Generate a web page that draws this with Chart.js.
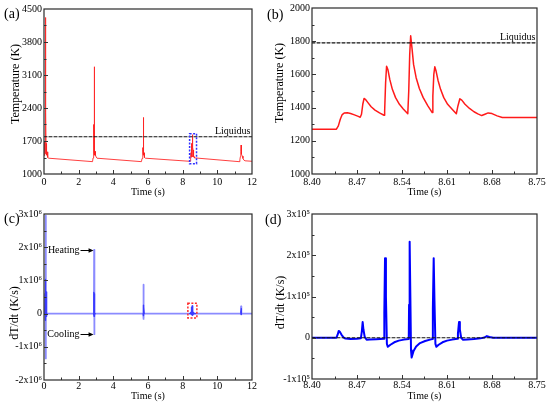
<!DOCTYPE html>
<html><head><meta charset="utf-8">
<script src="https://cdn.jsdelivr.net/npm/chart.js@4.4.0/dist/chart.umd.min.js"></script>
<style>
html,body{margin:0;padding:0;background:#fff;}
#wrap{position:relative;width:550px;height:406px;overflow:hidden;background:#fff;}
canvas{position:absolute;}
.lbl{position:absolute;font-family:"Liberation Serif","Times New Roman",serif;font-size:14px;color:#000;line-height:14px;white-space:nowrap;}
</style></head><body>
<div id="wrap">
<canvas id="ca" width="275" height="203" style="left:0;top:0;width:275px;height:203px"></canvas>
<canvas id="cb" width="275" height="203" style="left:275px;top:0;width:275px;height:203px"></canvas>
<canvas id="cc" width="275" height="203" style="left:0;top:203px;width:275px;height:203px"></canvas>
<canvas id="cd" width="275" height="203" style="left:275px;top:203px;width:275px;height:203px"></canvas>
<div class="lbl" style="left:4px;top:7px">(a)</div>
<div class="lbl" style="left:267px;top:8px">(b)</div>
<div class="lbl" style="left:4px;top:212px">(c)</div>
<div class="lbl" style="left:265px;top:213px">(d)</div>
</div>
<script>
const FONT = '"Liberation Serif","Times New Roman",Times,serif';

// ---------------- data ----------------
// (a) temperature history, 0-12 s (early part, then panel-b window, then late part)
const aTimeEarly = [0.00,0.015,0.025,0.035,0.045,0.055,0.062,0.07,0.078,0.085,0.092,0.10,0.108,0.115,0.122,0.13,0.14,0.15,0.165,0.18,0.20,0.23,0.27,
  2.80,2.83,2.845,2.855,2.865,2.872,2.878,2.885,2.89,2.895,2.90,2.905,2.91,2.918,2.925,2.935,2.945,2.96,2.98,3.01,3.06,
  5.62,5.66,5.685,5.70,5.71,5.718,5.725,5.732,5.738,5.745,5.752,5.76,5.77,5.785,5.81,5.85,
  8.39];
const aTempEarly = [1420,1520,1390,1560,1410,1700,1430,2400,1460,1900,1480,4320,1500,2300,1470,1650,1420,1560,1400,1470,1380,1350,1335,
  1262,1340,1450,1370,1600,1420,2050,1450,3275,1480,2000,1460,1700,1430,1560,1400,1480,1390,1400,1360,1335,
  1262,1330,1420,1380,1560,1420,2200,1450,1620,1420,1520,1400,1450,1380,1350,1335,
  1270];
const aTimeLate = [11.25,11.30,11.33,11.345,11.355,11.362,11.37,11.378,11.385,11.395,11.41,11.44,11.48,11.53,11.60,12.00];
const aTempLate = [1262,1300,1370,1420,1380,1480,1615,1460,1520,1430,1420,1380,1330,1295,1280,1270];

// (b) temperature, 8.40-8.75 s
const bTime = [8.400,8.438,8.441,8.444,8.447,8.450,8.455,8.460,8.466,8.472,
  8.475,8.477,8.479,8.481,8.483,8.487,8.492,8.498,8.505,8.512,
  8.513,8.5145,8.516,8.518,8.521,8.525,8.530,8.536,8.542,8.549,
  8.5505,8.552,8.5535,8.5555,8.558,8.562,8.567,8.573,8.580,8.587,
  8.588,8.5895,8.591,8.593,8.596,8.600,8.605,8.611,8.618,8.6245,
  8.627,8.630,8.633,8.638,8.645,8.652,8.658,8.664,8.669,8.674,
  8.680,8.688,8.696,8.750];
const bTemp = [1270,1270,1290,1330,1358,1367,1369,1364,1356,1347,
  1342,1360,1420,1455,1450,1430,1405,1385,1368,1354,
  1380,1550,1649,1630,1570,1510,1460,1420,1392,1363,
  1500,1720,1833,1760,1660,1580,1515,1460,1412,1370,
  1470,1600,1646,1620,1565,1510,1460,1420,1390,1363,
  1410,1453,1445,1420,1395,1375,1362,1352,1360,1368,
  1364,1350,1340,1340];
const liquidusT = 1790;

// (c) cooling/heating rate, 0-12 s: outer envelope and dense core
const cEnvTime = [0,0.085,0.095,0.105,0.115,2.88,2.893,2.903,2.913,5.725,5.735,5.745,5.755,8.54,8.552,8.556,8.57,11.36,11.37,11.38,11.39,12];
const cEnvRate = [0,0,2950000,-1350000,0,0,1920000,-620000,0,0,870000,-160000,0,0,233000,-48000,0,0,220000,-25000,0,0];
const cCoreEarlyTime = [0.05,0.06,0.065,0.07,0.075,0.08,0.09,0.10,0.11,0.12,0.13,0.15,0.17,0.18,
  2.86,2.87,2.875,2.88,2.885,2.895,2.905,2.915,2.93,2.95,2.96,
  5.72,5.725,5.73,5.74,5.75,5.76,5.78,5.79];
const cCoreEarlyRate = [0,600000,-150000,1030000,-200000,950000,-180000,1000000,-150000,650000,-80000,250000,0,null,
  0,300000,-50000,640000,-80000,600000,-60000,450000,-30000,0,null,
  0,120000,-40000,250000,-60000,200000,0,null];
const cCoreLateTime = [11.355,11.362,11.368,11.374,11.382,11.395];
const cCoreLateRate = [0,80000,-20000,150000,-10000,0];

// (d) rate, 8.40-8.75 s
const dTime = [8.400,8.438,8.440,8.4415,8.443,8.446,8.449,8.452,8.460,8.470,
  8.476,8.4775,8.4788,8.480,8.482,8.485,8.490,8.500,8.512,8.5125,
  8.5136,8.515,8.5165,8.518,8.522,8.528,8.535,8.543,8.5505,8.551,
  8.5519,8.553,8.554,8.555,8.558,8.562,8.568,8.576,8.585,8.5875,
  8.588,8.5893,8.5905,8.592,8.5935,8.597,8.603,8.610,8.618,8.626,
  8.627,8.6287,8.630,8.632,8.635,8.642,8.652,8.662,8.668,8.672,
  8.676,8.682,8.750];
const dRate = [0,0,8000,16500,15000,7000,1000,-2000,-3000,-2500,
  -1500,15000,38000,20000,2000,-5000,-4500,-3500,-2500,60000,
  193000,100000,-15000,-22000,-17000,-11000,-7000,-4500,-3000,80000,
  233000,100000,-30000,-48000,-32000,-21000,-13000,-8000,-4000,-3000,
  70000,193000,90000,-15000,-22000,-17000,-11000,-7000,-4500,-2500,
  10000,38000,20000,0,-5000,-4000,-3000,-1500,500,4000,
  2000,0,0];

// ticks
const aXTicks = [0,2,4,6,8,10,12];
const aXLabels = ['0','2','4','6','8','10','12'];
const aYTicks = [1000,1700,2400,3100,3800,4500];
const aYLabels = ['1000','1700','2400','3100','3800','4500'];
const bXTicks = [8.40,8.47,8.54,8.61,8.68,8.75];
const bXLabels = ['8.40','8.47','8.54','8.61','8.68','8.75'];
const bYTicks = [1000,1200,1400,1600,1800,2000];
const bYLabels = ['1000','1200','1400','1600','1800','2000'];
const cYTicks = [-2000000,-1000000,0,1000000,2000000,3000000];
const cYLabels = ['-2x10\u2076','-1x10\u2076','0','1x10\u2076','2x10\u2076','3x10\u2076'];
const dYTicks = [-100000,0,100000,200000,300000];
const dYLabels = ['-1x10\u2075','0','1x10\u2075','2x10\u2075','3x10\u2075'];

// marked regions
const aZoomBox = {t0:8.4, t1:8.8, v0:1220, v1:1855};
const cZoomBox = {t0:8.3, t1:8.82, v0:-130000, v1:310000};
const heatingRate = 1920000, coolingRate = -620000;

// ---------------- helpers ----------------
const pts = (xs, ys) => xs.map((x, i) => ({x: x, y: ys[i]}));
const mids = arr => arr.slice(1).map((v, i) => (v + arr[i]) / 2);

function dashedBox(ctx, x, y, b, color) {
  const x0 = x.getPixelForValue(b.t0), x1 = x.getPixelForValue(b.t1);
  const y0 = y.getPixelForValue(b.v0), y1 = y.getPixelForValue(b.v1);
  ctx.save();
  ctx.strokeStyle = color; ctx.lineWidth = 1.5; ctx.setLineDash([2, 1.5]);
  ctx.strokeRect(x0, y1, x1 - x0, y0 - y1);
  ctx.restore();
}
function liquidusText(ctx, x, y, tRight) {
  ctx.save();
  ctx.fillStyle = '#000'; ctx.font = '10px ' + FONT;
  ctx.textAlign = 'right'; ctx.textBaseline = 'alphabetic';
  ctx.fillText('Liquidus', x.getPixelForValue(tRight) - 1.5, y.getPixelForValue(liquidusT) - 2.5);
  ctx.restore();
}
function arrowLabel(ctx, x, y, text, tText, tTip, v) {
  const py = Math.round(y.getPixelForValue(v)) + 0.5;
  const xs = x.getPixelForValue(tText), xt = x.getPixelForValue(tTip);
  ctx.save();
  ctx.fillStyle = '#000'; ctx.strokeStyle = '#000'; ctx.lineWidth = 1;
  ctx.font = '10px ' + FONT; ctx.textAlign = 'right'; ctx.textBaseline = 'middle';
  ctx.fillText(text, xs, py);
  ctx.beginPath(); ctx.moveTo(xs + 1, py); ctx.lineTo(xt - 3, py); ctx.stroke();
  ctx.beginPath(); ctx.moveTo(xt, py); ctx.lineTo(xt - 5, py - 2.2); ctx.lineTo(xt - 5, py + 2.2); ctx.closePath(); ctx.fill();
  ctx.restore();
}

function decor(o) {
  return {
    id: 'decor',
    afterDraw(chart) {
      const {ctx, chartArea: ca, scales: {x, y}} = chart;
      if (o.extra) o.extra(ctx, x, y, ca);
      ctx.save();
      ctx.strokeStyle = '#333'; ctx.lineWidth = 1; ctx.setLineDash([]);
      ctx.beginPath();
      const xt = (v, len) => { const p = Math.round(x.getPixelForValue(v)) + 0.5; ctx.moveTo(p, ca.bottom); ctx.lineTo(p, ca.bottom - len); };
      const yt = (v, len) => { const p = Math.round(y.getPixelForValue(v)) + 0.5; ctx.moveTo(ca.left, p); ctx.lineTo(ca.left + len, p); };
      o.xTicks.slice(1, -1).forEach(v => xt(v, 4));
      mids(o.xTicks).forEach(v => xt(v, 2.5));
      o.yTicks.slice(1, -1).forEach(v => yt(v, 4));
      mids(o.yTicks).forEach(v => yt(v, 2.5));
      ctx.stroke();
      ctx.lineWidth = 1.2; ctx.strokeStyle = '#2a2a2a';
      ctx.strokeRect(ca.left, ca.top, ca.right - ca.left, ca.bottom - ca.top);
      // rotated y title
      ctx.fillStyle = '#000'; ctx.font = '12px ' + FONT;
      ctx.translate(o.yTitlePos[0], o.yTitlePos[1]); ctx.rotate(-Math.PI / 2);
      ctx.textAlign = 'center'; ctx.textBaseline = 'middle';
      ctx.fillText(o.yTitle, 0, 0);
      ctx.restore();
    }
  };
}

function panel(id, o) {
  return new Chart(document.getElementById(id), {
    type: 'line',
    data: {datasets: o.datasets},
    options: {
      responsive: false, animation: false, events: [],
      layout: {padding: o.padding},
      plugins: {legend: {display: false}, tooltip: {enabled: false}},
      elements: {point: {radius: 0}, line: {tension: 0, borderJoinStyle: 'round', borderCapStyle: 'round'}},
      scales: {
        x: {
          type: 'linear', min: o.xTicks[0], max: o.xTicks[o.xTicks.length - 1],
          afterFit: s => { s.height = o.xH; },
          afterBuildTicks: s => { s.ticks = o.xTicks.map(v => ({value: v})); },
          ticks: {autoSkip: false, maxRotation: 0, minRotation: 0, padding: o.xTickPad, color: '#000',
            font: {family: FONT, size: 10}, callback: (v, i) => o.xLabels[i]},
          grid: {display: false, drawTicks: false}, border: {display: false},
          title: {display: true, text: 'Time (s)', color: '#000', font: {family: FONT, size: 10},
            padding: {top: 0, bottom: o.xTitlePad}}
        },
        y: {
          type: 'linear', min: o.yTicks[0], max: o.yTicks[o.yTicks.length - 1],
          afterFit: s => { s.width = o.yW; },
          afterBuildTicks: s => { s.ticks = o.yTicks.map(v => ({value: v})); },
          ticks: {autoSkip: false, padding: 2, color: '#000', font: {family: FONT, size: 10},
            callback: (v, i) => o.yLabels[i]},
          grid: {display: false, drawTicks: false}, border: {display: false}
        }
      }
    },
    plugins: [decor(o)]
  });
}

// ---------------- panels ----------------
panel('ca', {
  padding: {left: 0, top: 9, right: 23, bottom: 0}, yW: 44, xH: 29, xTickPad: 2, xTitlePad: 5,
  xTicks: aXTicks, xLabels: aXLabels, yTicks: aYTicks, yLabels: aYLabels,
  yTitle: 'Temperature (K)', yTitlePos: [16, 84],
  datasets: [
    {data: [{x: 0, y: liquidusT}, {x: 12, y: liquidusT}], borderColor: '#111', borderWidth: 1.2, borderDash: [3, 2]},
    {data: [...pts(aTimeEarly, aTempEarly), ...pts(bTime, bTemp), ...pts(aTimeLate, aTempLate)],
      borderColor: 'rgba(255,30,30,0.85)', borderWidth: 1}
  ],
  extra: (ctx, x, y) => { dashedBox(ctx, x, y, aZoomBox, '#3030ff'); liquidusText(ctx, x, y, 12); }
});

panel('cb', {
  padding: {left: 0, top: 8, right: 13, bottom: 0}, yW: 37, xH: 29, xTickPad: 2, xTitlePad: 4.5,
  xTicks: bXTicks, xLabels: bXLabels, yTicks: bYTicks, yLabels: bYLabels,
  yTitle: 'Temperature (K)', yTitlePos: [5, 83],
  datasets: [
    {data: [{x: 8.40, y: liquidusT}, {x: 8.75, y: liquidusT}], borderColor: '#111', borderWidth: 1.2, borderDash: [3, 2]},
    {data: pts(bTime, bTemp), borderColor: '#ff1a1a', borderWidth: 1.5}
  ],
  extra: (ctx, x, y) => { liquidusText(ctx, x, y, 8.75); }
});

panel('cc', {
  padding: {left: 0, top: 11, right: 23, bottom: 0}, yW: 44, xH: 26, xTickPad: 0.5, xTitlePad: 3.3,
  xTicks: aXTicks, xLabels: aXLabels, yTicks: cYTicks, yLabels: cYLabels,
  yTitle: 'dT/dt (K/s)', yTitlePos: [15, 110],
  datasets: [
    {data: [...pts(cCoreEarlyTime, cCoreEarlyRate), {x: 8.39, y: null}, ...pts(dTime, dRate), {x: 8.76, y: null}, ...pts(cCoreLateTime, cCoreLateRate)],
      borderColor: 'rgba(50,50,255,0.9)', borderWidth: 1.4, spanGaps: false},
    {data: pts(cEnvTime, cEnvRate), borderColor: 'rgba(110,110,255,0.8)', borderWidth: 1.8}
  ],
  extra: (ctx, x, y) => {
    dashedBox(ctx, x, y, cZoomBox, '#ff2a2a');
    arrowLabel(ctx, x, y, 'Heating', 2.05, 2.86, heatingRate);
    arrowLabel(ctx, x, y, 'Cooling', 2.05, 2.86, coolingRate);
  }
});

panel('cd', {
  padding: {left: 0, top: 11, right: 13, bottom: 0}, yW: 37, xH: 27, xTickPad: 0, xTitlePad: 3.2,
  xTicks: bXTicks, xLabels: bXLabels, yTicks: dYTicks, yLabels: dYLabels,
  yTitle: 'dT/dt (K/s)', yTitlePos: [5.5, 99.5],
  datasets: [
    {data: [{x: 8.40, y: 0}, {x: 8.75, y: 0}], borderColor: '#111', borderWidth: 1, borderDash: [3, 2]},
    {data: pts(dTime, dRate), borderColor: '#0000ff', borderWidth: 2}
  ]
});
</script>
</body></html>
